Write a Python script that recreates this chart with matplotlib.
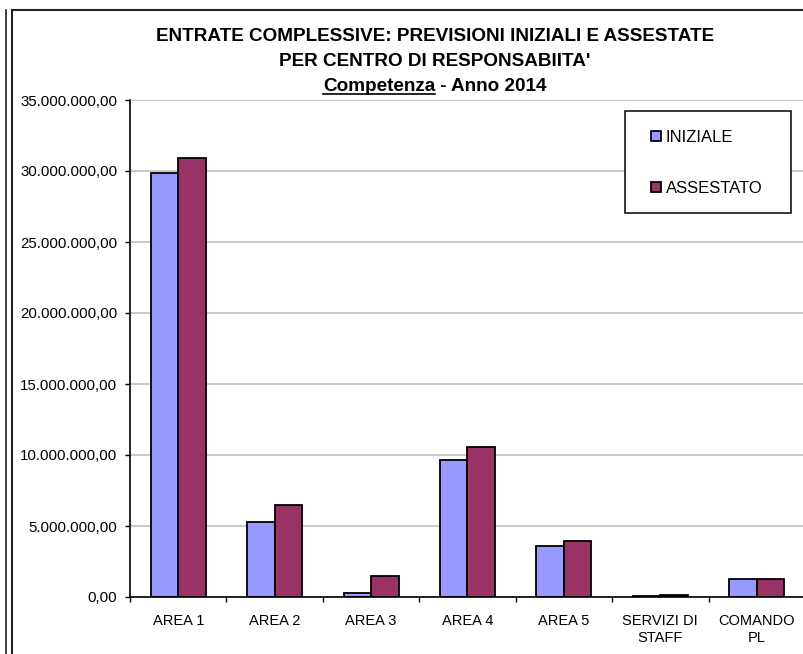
import matplotlib
matplotlib.use("Agg")
import matplotlib.pyplot as plt
from matplotlib.lines import Line2D
from matplotlib.patches import Rectangle
from matplotlib.ticker import FuncFormatter, MultipleLocator
import numpy as np

plt.rcParams['font.family'] = ['Liberation Sans', 'DejaVu Sans']

categories = ['AREA 1', 'AREA 2', 'AREA 3', 'AREA 4', 'AREA 5',
              'SERVIZI DI\nSTAFF', 'COMANDO\nPL']
iniziale = [29850000, 5270000, 280000, 9650000, 3600000, 60000, 1270000]
assestato = [30950000, 6480000, 1480000, 10560000, 3940000, 170000, 1270000]
series_names = ['INIZIALE', 'ASSESTATO']
colors = ['#9999FF', '#993366']

W, H = 804, 654
fig = plt.figure(figsize=(W / 100, H / 100), dpi=100)

# plot area in pixels: left 130, right 805, top 100, bottom 597
ax = fig.add_axes([130 / W, (H - 597) / H, 675 / W, 497 / H])

x = np.arange(len(categories))
bw = 0.285
b1 = ax.bar(x - bw / 2, iniziale, bw, color=colors[0], edgecolor='black',
            linewidth=1.3, label=series_names[0], zorder=3)
b2 = ax.bar(x + bw / 2, assestato, bw, color=colors[1], edgecolor='black',
            linewidth=1.3, label=series_names[1], zorder=3)

ax.set_xlim(-0.5, len(categories) - 0.5)
ax.set_ylim(0, 35000000)

def fmt(v, pos):
    s = f"{v:,.2f}"
    return s.replace(',', 'X').replace('.', ',').replace('X', '.')

ax.yaxis.set_major_locator(MultipleLocator(5000000))
ax.yaxis.set_major_formatter(FuncFormatter(fmt))
ax.tick_params(axis='y', direction='out', length=3.6, width=1, pad=5.5,
               labelsize=10.8, colors='black')
ax.grid(axis='y', color='#c0c0c0', linewidth=1.2, zorder=0)

ax.set_xticks(x)
ax.set_xticklabels(categories, fontsize=10.5, linespacing=1.3)
ax.set_xticks(np.arange(-0.5, len(categories), 1.0), minor=True)
ax.tick_params(axis='x', which='major', length=0, pad=12)
ax.tick_params(axis='x', which='minor', direction='out', length=3.6, width=1)

for s in ['top', 'right']:
    ax.spines[s].set_visible(False)
for s in ['left', 'bottom']:
    ax.spines[s].set_color('black')
    ax.spines[s].set_linewidth(1.2)
    ax.spines[s].set_zorder(4)

# legend box + entries
box = Rectangle((625 / W, (H - 213) / H), 166 / W, 102 / H,
                transform=fig.transFigure, facecolor='white',
                edgecolor='black', linewidth=1.1, zorder=5, clip_on=False)
ax.add_artist(box)
leg = ax.legend(handles=[b1, b2], loc='upper left',
                bbox_to_anchor=(651 / W, 1 - 130 / H),
                bbox_transform=fig.transFigure, frameon=False, fontsize=12,
                borderpad=0, borderaxespad=0, handlelength=0.6,
                handleheight=0.6, handletextpad=0.3, labelspacing=2.15)
leg.set_zorder(6)

# title
cx = 435 / W
fs_t = 13.6
fig.text(cx, 1 - 41 / H, "ENTRATE COMPLESSIVE: PREVISIONI INIZIALI E ASSESTATE",
         ha='center', va='baseline', fontsize=fs_t, fontweight='bold')
fig.text(cx, 1 - 66 / H, "PER CENTRO DI RESPONSABIITA'",
         ha='center', va='baseline', fontsize=fs_t, fontweight='bold')
t1 = fig.text(0, 1 - 91 / H, "Competenza", ha='left', va='baseline',
              fontsize=fs_t, fontweight='bold')
t2 = fig.text(0, 1 - 91 / H, " - Anno 2014", ha='left', va='baseline',
              fontsize=fs_t, fontweight='bold')
r = fig.canvas.get_renderer()
w1 = t1.get_window_extent(r).width
w2 = t2.get_window_extent(r).width
x0 = cx * W - (w1 + w2) / 2
t1.set_x(x0 / W)
t2.set_x((x0 + w1) / W)
uy = 1 - 94 / H
fig.add_artist(Line2D([x0 / W, (x0 + w1) / W], [uy, uy],
                      transform=fig.transFigure, color='black', linewidth=1.2))

# outer frame lines
top = 1 - 10 / H
fig.add_artist(Line2D([6.5 / W, 6.5 / W], [0, top], transform=fig.transFigure,
                      color='#222222', linewidth=1.2))
fig.add_artist(Line2D([12.5 / W, 12.5 / W], [0, top], transform=fig.transFigure,
                      color='#222222', linewidth=1.5))
fig.add_artist(Line2D([12.5 / W, 1], [top, top], transform=fig.transFigure,
                      color='#222222', linewidth=1.5))

fig.savefig('out.png', dpi=100)
